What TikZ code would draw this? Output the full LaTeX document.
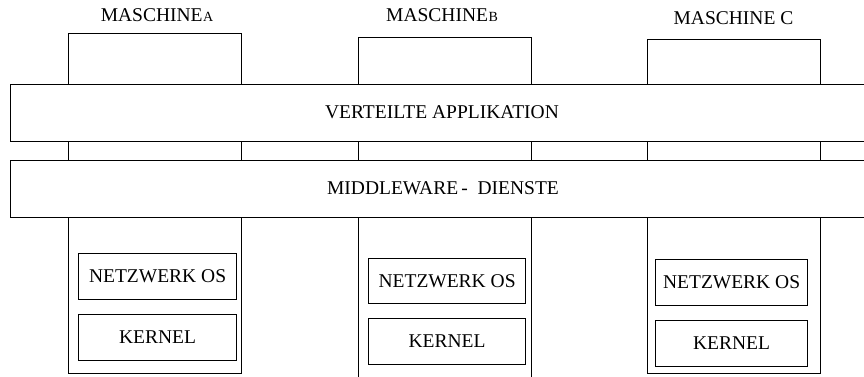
\documentclass[tikz,border=0pt]{standalone}
\usepackage{fontspec}
\setmainfont{Liberation Serif}
\begin{document}
\begin{tikzpicture}[x=1pt,y=-1pt,
  every node/.style={font=\fontsize{19.5}{23}\selectfont, inner sep=0pt},
  frame/.style={draw, line width=1.2pt, rectangle, anchor=north west, fill=white},
  mlabel/.style={anchor=center}]
\useasboundingbox (0,0) rectangle (864,376);
% machines
\node[frame, minimum width=173pt, minimum height=340pt] (ma) at (68,33) {};
\node[frame, minimum width=173pt, minimum height=350pt] (mb) at (358,37) {};
\node[frame, minimum width=173pt, minimum height=334pt] (mc) at (647,39) {};
% labels
\node[mlabel] (la) at (157,15) {MASCHINE\kern0.5pt{\fontsize{14}{16}\selectfont A}};
\node[mlabel] (lb) at (442,15) {MASCHINE\kern0.5pt{\fontsize{14}{16}\selectfont B}};
\node[mlabel] (lc) at (733.5,18) {MASCHINE C};
% bars
\node[frame, minimum width=880pt, minimum height=57pt] (app) at (10,84) {};
\node at (442,112.5) (apptext) {VERTEILTE APPLIKATION};
\node[frame, minimum width=880pt, minimum height=57pt] (mw) at (10,160) {};
\node at (443,188.5) (mwtext) {MIDDLEWARE\,-\ \ DIENSTE};
% inner boxes
\node[frame, minimum width=158pt, minimum height=46pt] (na) at (78,253) {};
\node at (na.center) (nat) {NETZWERK OS};
\node[frame, minimum width=158pt, minimum height=46pt] (ka) at (78,314) {};
\node at (ka.center) (kat) {KERNEL};
\node[frame, minimum width=157pt, minimum height=45pt] (nb) at (368,258) {};
\node at (nb.center) (nbt) {NETZWERK OS};
\node[frame, minimum width=157pt, minimum height=46pt] (kb) at (368,318) {};
\node at (kb.center) (kbt) {KERNEL};
\node[frame, minimum width=152pt, minimum height=46pt] (nc) at (655,259) {};
\node at (nc.center) (nct) {NETZWERK OS};
\node[frame, minimum width=152pt, minimum height=46pt] (kc) at (655,320) {};
\node at (kc.center) (kct) {KERNEL};
\end{tikzpicture}
\end{document}
